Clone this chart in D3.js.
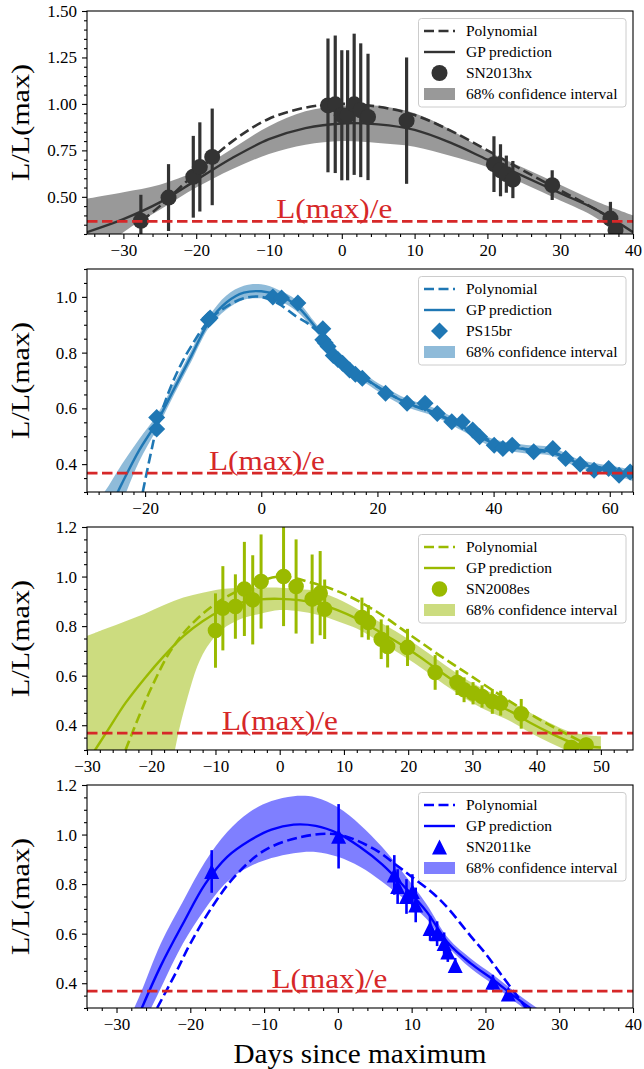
<!DOCTYPE html>
<html>
<head>
<meta charset="utf-8">
<script src="https://cdn.jsdelivr.net/npm/d3@7"></script>
<style>
  html, body { margin: 0; padding: 0; background: #fff; }
  svg { display: block; }
  svg text { font-family: "Liberation Serif", "DejaVu Serif", serif !important; }
</style>
</head>
<body>
<svg id="fig" width="644" height="1069" font-family="Liberation Serif, DejaVu Serif, serif"></svg>
<script>
// ---------------- SN2013hx ----------------
const hxDays = [-27.6, -23.8, -20.4, -19.5, -17.8, -1.9, -0.9, 0.0, 0.8, 1.7, 2.6, 3.6, 8.9, 20.9, 21.8, 22.6, 23.5, 28.9, 36.9, 37.6];
const hxLum  = [0.371, 0.496, 0.608, 0.661, 0.715, 0.992, 0.998, 0.939, 0.939, 0.998, 0.966, 0.930, 0.910, 0.676, 0.643, 0.622, 0.593, 0.563, 0.383, 0.321];
const hxErr  = [0.14, 0.18, 0.22, 0.24, 0.26, 0.36, 0.37, 0.35, 0.35, 0.38, 0.36, 0.34, 0.34, 0.15, 0.14, 0.10, 0.10, 0.08, 0.09, 0.06];
const hxPolyDays = [-27.5, -25, -20, -15, -10, -5, 0, 5, 10, 15, 20, 25, 30, 35, 38];
const hxPolyLum  = [0.37, 0.45, 0.63, 0.80, 0.92, 0.98, 1.0, 0.985, 0.94, 0.855, 0.75, 0.64, 0.535, 0.43, 0.36];
const hxGpDays = [-35, -30, -25, -20, -15, -10, -5, 0, 5, 10, 15, 20, 25, 30, 35, 40];
const hxGpMean = [0.31, 0.38, 0.47, 0.59, 0.71, 0.81, 0.87, 0.895, 0.89, 0.86, 0.79, 0.70, 0.61, 0.52, 0.43, 0.31];
const hxGpLow  = [0.14, 0.31, 0.43, 0.55, 0.65, 0.73, 0.78, 0.80, 0.79, 0.77, 0.72, 0.66, 0.57, 0.48, 0.385, 0.22];
const hxGpHigh = [0.49, 0.525, 0.565, 0.64, 0.76, 0.88, 0.96, 0.99, 0.99, 0.95, 0.86, 0.745, 0.655, 0.565, 0.475, 0.40];
const hxXTicks = [-30, -20, -10, 0, 10, 20, 30, 40];
const hxYTicks = [0.50, 0.75, 1.00, 1.25, 1.50];

// ---------------- PS15br ----------------
const psDays = [-18.0, -18.0, -9.1, -8.8, 2.0, 3.5, 6.3, 10.6, 10.6, 11.0, 11.5, 12.4, 13.2, 14.0, 15.2, 16.2, 17.4, 21.4, 25.1, 28.2, 30.3, 32.8, 34.6, 36.4, 37.6, 40.1, 41.6, 43.2, 46.9, 50.2, 52.4, 54.9, 57.3, 59.8, 61.6, 63.5];
const psLum  = [0.567, 0.526, 0.918, 0.924, 1.0, 0.996, 0.978, 0.886, 0.846, 0.835, 0.822, 0.790, 0.775, 0.762, 0.738, 0.722, 0.708, 0.654, 0.618, 0.618, 0.582, 0.552, 0.552, 0.522, 0.498, 0.468, 0.456, 0.468, 0.444, 0.456, 0.420, 0.400, 0.378, 0.384, 0.360, 0.372];
const psPolyDays = [-20.4, -19, -18, -16, -14, -12, -9, -6, -3, 0, 3, 6, 8, 10, 12, 15, 18, 21, 25, 30, 35, 40, 45, 50, 55, 60, 64];
const psPolyLum  = [0.30, 0.44, 0.53, 0.655, 0.75, 0.825, 0.915, 0.965, 0.995, 1.0, 0.975, 0.93, 0.905, 0.87, 0.82, 0.755, 0.705, 0.665, 0.62, 0.58, 0.53, 0.48, 0.455, 0.44, 0.405, 0.38, 0.355];
const psGpDays = [-30, -27, -24, -21, -18, -15, -12, -9, -6, -3, 0, 3, 6, 9, 12, 15, 18, 21, 25, 30, 35, 40, 45, 50, 55, 60, 64];
const psGpMean = [0.08, 0.20, 0.33, 0.45, 0.55, 0.67, 0.79, 0.91, 0.98, 1.015, 1.02, 1.005, 0.97, 0.90, 0.82, 0.75, 0.705, 0.665, 0.62, 0.585, 0.53, 0.475, 0.455, 0.445, 0.40, 0.38, 0.36];
const psGpLow  = [-0.06, 0.10, 0.26, 0.41, 0.525, 0.65, 0.77, 0.89, 0.955, 0.99, 0.995, 0.985, 0.95, 0.885, 0.805, 0.735, 0.69, 0.65, 0.605, 0.57, 0.515, 0.46, 0.44, 0.43, 0.385, 0.365, 0.34];
const psGpHigh = [0.22, 0.30, 0.40, 0.49, 0.575, 0.69, 0.81, 0.93, 1.005, 1.04, 1.045, 1.025, 0.99, 0.915, 0.835, 0.765, 0.72, 0.68, 0.635, 0.60, 0.545, 0.49, 0.47, 0.46, 0.415, 0.395, 0.38];
const psXTicks = [-20, 0, 20, 40, 60];
const psYTicks = [0.4, 0.6, 0.8, 1.0];

// ---------------- SN2008es ----------------
const esDays = [-10.0, -8.85, -6.9, -5.5, -4.2, -2.9, 0.6, 2.55, 5.05, 6.3, 7.0, 12.8, 13.8, 15.8, 16.8, 19.9, 24.2, 27.6, 28.7, 30.1, 31.5, 33.1, 34.4, 37.6, 45.4, 47.7];
const esLum  = [0.782, 0.872, 0.879, 0.950, 0.906, 0.980, 1.0, 0.960, 0.909, 0.933, 0.868, 0.835, 0.815, 0.747, 0.718, 0.714, 0.613, 0.572, 0.543, 0.529, 0.516, 0.496, 0.489, 0.446, 0.310, 0.320];
const esErr  = [0.15, 0.17, 0.13, 0.19, 0.18, 0.19, 0.20, 0.19, 0.18, 0.17, 0.12, 0.08, 0.07, 0.08, 0.085, 0.075, 0.07, 0.05, 0.05, 0.045, 0.045, 0.05, 0.05, 0.06, 0.03, 0.03];
const esPolyDays = [-24, -22, -20, -17, -14, -10, -5, 0, 5, 10, 15, 20, 25, 30, 35, 40, 45, 48];
const esPolyLum  = [0.30, 0.43, 0.55, 0.70, 0.80, 0.89, 0.96, 1.0, 0.975, 0.93, 0.86, 0.77, 0.68, 0.595, 0.51, 0.43, 0.36, 0.32];
const esGpDays = [-30, -27, -24, -21, -18, -15, -12, -9, -6, -3, 0, 3, 6, 9, 12, 15, 18, 21, 24, 27, 30, 33, 36, 39, 42, 45, 48, 50];
const esGpMean = [0.25, 0.37, 0.49, 0.59, 0.68, 0.76, 0.82, 0.865, 0.895, 0.908, 0.91, 0.905, 0.89, 0.865, 0.83, 0.785, 0.74, 0.69, 0.635, 0.58, 0.53, 0.49, 0.455, 0.41, 0.37, 0.335, 0.315, 0.31];
const esGpLow  = [-0.40, -0.30, -0.20, -0.05, 0.12, 0.45, 0.685, 0.785, 0.83, 0.85, 0.865, 0.86, 0.845, 0.82, 0.79, 0.745, 0.70, 0.65, 0.595, 0.54, 0.49, 0.45, 0.415, 0.37, 0.33, 0.295, 0.27, 0.265];
const esGpHigh = [0.76, 0.79, 0.82, 0.85, 0.885, 0.915, 0.935, 0.95, 0.955, 0.955, 0.955, 0.95, 0.94, 0.91, 0.87, 0.825, 0.78, 0.73, 0.675, 0.62, 0.57, 0.53, 0.495, 0.45, 0.41, 0.375, 0.36, 0.355];
const esXTicks = [-30, -20, -10, 0, 10, 20, 30, 40, 50];
const esYTicks = [0.4, 0.6, 0.8, 1.0, 1.2];

// ---------------- SN2011ke ----------------
const keDays = [-17.1, 0.1, 7.65, 8.1, 9.3, 10.1, 10.55, 12.5, 13.45, 14.4, 14.9, 15.9, 21.0, 23.1];
const keLum  = [0.851, 0.993, 0.837, 0.790, 0.750, 0.770, 0.716, 0.621, 0.600, 0.560, 0.526, 0.472, 0.404, 0.357];
const keErr  = [0.086, 0.13, 0.08, 0.07, 0.07, 0.07, 0.07, 0.05, 0.05, 0.045, 0.04, 0.03, 0.03, 0.02];
const kePolyDays = [-24.5, -22, -20, -17, -14, -10, -5, 0, 5, 8, 10, 13, 15, 18, 20, 22, 24, 26];
const kePolyLum  = [0.30, 0.44, 0.56, 0.71, 0.83, 0.935, 0.99, 1.0, 0.94, 0.875, 0.83, 0.76, 0.70, 0.59, 0.52, 0.44, 0.36, 0.28];
const keGpDays = [-30, -27, -24, -21, -18, -15, -12, -9, -6, -3, 0, 3, 6, 9, 12, 15, 18, 21, 24, 27, 30];
const keGpMean = [0.05, 0.27, 0.47, 0.64, 0.80, 0.91, 0.975, 1.02, 1.04, 1.035, 1.005, 0.95, 0.88, 0.79, 0.69, 0.56, 0.48, 0.415, 0.345, 0.28, 0.22];
const keGpLow  = [-0.05, 0.19, 0.38, 0.56, 0.70, 0.81, 0.87, 0.905, 0.925, 0.93, 0.91, 0.87, 0.81, 0.74, 0.66, 0.545, 0.46, 0.395, 0.325, 0.26, 0.20];
const keGpHigh = [0.15, 0.34, 0.56, 0.73, 0.89, 1.01, 1.09, 1.135, 1.155, 1.15, 1.11, 1.04, 0.95, 0.84, 0.72, 0.58, 0.50, 0.435, 0.365, 0.30, 0.24];
const keXTicks = [-30, -20, -10, 0, 10, 20, 30, 40];
const keYTicks = [0.4, 0.6, 0.8, 1.0, 1.2];

// Threshold luminosity L(max)/e
const threshold = 1 / Math.E;

// ---------------- layout ----------------
const FONT = "Liberation Serif, DejaVu Serif, serif";
const plotLeft = 87, plotRight = 633, plotHeight = 223;
const panelTops = [11, 269, 527, 785];
const zip = (t, v) => t.map((d, k) => ({ t: d, v: v[k] }));

const panels = [
  { name: "SN2013hx", color: "#333333", marker: "circle", r: 8, ebw: 3.2,
    days: hxDays, lum: hxLum, err: hxErr,
    polyDays: hxPolyDays, polyLum: hxPolyLum,
    gpDays: hxGpDays, gpMean: hxGpMean, gpLow: hxGpLow, gpHigh: hxGpHigh,
    xDomain: [-35, 40], yDomain: [0.3, 1.5], xTicks: hxXTicks, yTicks: hxYTicks, yFmt: ".2f" },
  { name: "PS15br", color: "#1f77b4", marker: "diamond", r: 8.5, ebw: 0,
    days: psDays, lum: psLum, err: null,
    polyDays: psPolyDays, polyLum: psPolyLum,
    gpDays: psGpDays, gpMean: psGpMean, gpLow: psGpLow, gpHigh: psGpHigh,
    xDomain: [-30, 64], yDomain: [0.3, 1.1], xTicks: psXTicks, yTicks: psYTicks, yFmt: ".1f" },
  { name: "SN2008es", color: "#9aba00", marker: "circle", r: 7.8, ebw: 3,
    days: esDays, lum: esLum, err: esErr,
    polyDays: esPolyDays, polyLum: esPolyLum,
    gpDays: esGpDays, gpMean: esGpMean, gpLow: esGpLow, gpHigh: esGpHigh,
    xDomain: [-30, 55], yDomain: [0.3, 1.2], xTicks: esXTicks, yTicks: esYTicks, yFmt: ".1f" },
  { name: "SN2011ke", color: "#0000ff", marker: "triangle", r: 7.5, ebw: 2.6,
    days: keDays, lum: keLum, err: keErr,
    polyDays: kePolyDays, polyLum: kePolyLum,
    gpDays: keGpDays, gpMean: keGpMean, gpLow: keGpLow, gpHigh: keGpHigh,
    xDomain: [-34, 40], yDomain: [0.3, 1.2], xTicks: keXTicks, yTicks: keYTicks, yFmt: ".1f" }
];

const svg = d3.select("#fig");
svg.append("rect").attr("width", 644).attr("height", 1069).attr("fill", "#fff");
const defs = svg.append("defs");

function markerPath(kind, r) {
  if (kind === "circle") return d3.symbol(d3.symbolCircle, Math.PI * r * r)();
  if (kind === "diamond") return `M0,${-r}L${r},0L0,${r}L${-r},0Z`;
  return `M0,${-r}L${r},${r}L${-r},${r}Z`;
}

const smooth = d3.curveCatmullRom.alpha(0.5);

panels.forEach((p, i) => {
  const top = panelTops[i], bottom = top + plotHeight;
  const x = d3.scaleLinear().domain(p.xDomain).range([plotLeft, plotRight]);
  const y = d3.scaleLinear().domain(p.yDomain).range([bottom, top]);
  const g = svg.append("g");

  defs.append("clipPath").attr("id", "clip" + i)
    .append("rect").attr("x", plotLeft).attr("y", top)
    .attr("width", plotRight - plotLeft).attr("height", plotHeight);
  const plot = g.append("g").attr("clip-path", `url(#clip${i})`);

  // 68% confidence band of the GP
  const band = d3.area().curve(smooth)
    .x(d => x(d.t)).y0(d => y(d.lo)).y1(d => y(d.hi));
  plot.append("path")
    .datum(p.gpDays.map((t, k) => ({ t, lo: p.gpLow[k], hi: p.gpHigh[k] })))
    .attr("d", band).attr("fill", p.color).attr("fill-opacity", 0.5);

  const line = d3.line().curve(smooth).x(d => x(d.t)).y(d => y(d.v));
  // polynomial fit
  plot.append("path").datum(zip(p.polyDays, p.polyLum)).attr("d", line)
    .attr("fill", "none").attr("stroke", p.color).attr("stroke-width", 2.6)
    .attr("stroke-dasharray", "10,4.5");
  // GP mean
  plot.append("path").datum(zip(p.gpDays, p.gpMean)).attr("d", line)
    .attr("fill", "none").attr("stroke", p.color).attr("stroke-width", 2.4);

  // error bars
  if (p.err) {
    plot.append("g").selectAll("line").data(p.days).join("line")
      .attr("x1", (d) => x(d)).attr("x2", (d) => x(d))
      .attr("y1", (d, k) => y(p.lum[k] - p.err[k]))
      .attr("y2", (d, k) => y(p.lum[k] + p.err[k]))
      .attr("stroke", p.color).attr("stroke-width", p.ebw);
  }
  // observations
  const mp = markerPath(p.marker, p.r);
  plot.append("g").selectAll("path").data(p.days).join("path")
    .attr("d", mp)
    .attr("transform", (d, k) => `translate(${x(d)},${y(p.lum[k])})`)
    .attr("fill", p.color);

  // L(max)/e threshold
  plot.append("line")
    .attr("x1", x(p.xDomain[0])).attr("x2", x(p.xDomain[1]))
    .attr("y1", y(threshold)).attr("y2", y(threshold))
    .attr("stroke", "#d62728").attr("stroke-width", 2.8)
    .attr("stroke-dasharray", "10.5,4.5");
  g.append("text")
    .attr("x", x(-9)).attr("y", y(threshold) - 3)
    .attr("font-family", FONT).attr("font-size", 27).attr("fill", "#d62728")
    .attr("textLength", 116).attr("lengthAdjust", "spacingAndGlyphs")
    .text("L(max)/e");

  // axes
  const xMinor = d3.range(Math.ceil(p.xDomain[0] / 2) * 2, p.xDomain[1] + 1e-9, 2)
    .filter(v => !p.xTicks.includes(v));
  const yMinor = d3.range(Math.ceil(p.yDomain[0] / 0.05 - 1e-6), Math.floor(p.yDomain[1] / 0.05 + 1e-6) + 1)
    .map(k => +(k * 0.05).toFixed(2))
    .filter(v => !p.yTicks.some(t => Math.abs(t - v) < 1e-6));

  const styleAxis = a => {
    a.attr("font-family", FONT);
    a.select(".domain").remove();
    a.selectAll("line").attr("stroke", "#000").attr("stroke-width", 1.1);
    a.selectAll("text").attr("font-size", 17).attr("fill", "#000").attr("font-family", FONT);
  };
  g.append("g").attr("transform", `translate(0,${bottom})`)
    .call(d3.axisBottom(x).tickValues(xMinor).tickSize(3).tickFormat(""))
    .call(styleAxis);
  g.append("g").attr("transform", `translate(0,${bottom})`)
    .call(d3.axisBottom(x).tickValues(p.xTicks).tickSize(5).tickPadding(5).tickFormat(d3.format("d")))
    .call(styleAxis);
  g.append("g").attr("transform", `translate(${plotLeft},0)`)
    .call(d3.axisLeft(y).tickValues(yMinor).tickSize(3).tickFormat(""))
    .call(styleAxis);
  g.append("g").attr("transform", `translate(${plotLeft},0)`)
    .call(d3.axisLeft(y).tickValues(p.yTicks).tickSize(5).tickPadding(5).tickFormat(d3.format(p.yFmt)))
    .call(styleAxis);

  g.append("rect").attr("x", plotLeft).attr("y", top)
    .attr("width", plotRight - plotLeft).attr("height", plotHeight)
    .attr("fill", "none").attr("stroke", "#000").attr("stroke-width", 1.1);

  // y label
  g.append("text")
    .attr("transform", `translate(28.5,${top + plotHeight / 2}) rotate(-90)`)
    .attr("text-anchor", "middle").attr("font-family", FONT).attr("font-size", 26).attr("fill", "#000")
    .attr("textLength", 117).attr("lengthAdjust", "spacingAndGlyphs")
    .text("L/L(max)");

  // legend
  const lx = 418.5, ly = top + 7.5;
  const leg = g.append("g");
  leg.append("rect").attr("x", lx).attr("y", ly).attr("width", 207.5).attr("height", 88.5)
    .attr("rx", 3).attr("fill", "#fff").attr("fill-opacity", 0.8)
    .attr("stroke", "#cccccc").attr("stroke-width", 1);
  const rowY = k => ly + 12.5 + 21 * k;
  const hx0 = 424, hx1 = 455;
  leg.append("line").attr("x1", hx0).attr("x2", hx1).attr("y1", rowY(0)).attr("y2", rowY(0))
    .attr("stroke", p.color).attr("stroke-width", 2.6).attr("stroke-dasharray", "10,4.5");
  leg.append("line").attr("x1", hx0).attr("x2", hx1).attr("y1", rowY(1)).attr("y2", rowY(1))
    .attr("stroke", p.color).attr("stroke-width", 2.4);
  leg.append("path").attr("d", mp)
    .attr("transform", `translate(${(hx0 + hx1) / 2},${rowY(2)})`).attr("fill", p.color);
  leg.append("rect").attr("x", hx0).attr("y", rowY(3) - 6).attr("width", hx1 - hx0).attr("height", 12)
    .attr("fill", p.color).attr("fill-opacity", 0.5);
  const labels = ["Polynomial", "GP prediction", p.name, "68% confidence interval"];
  leg.selectAll("text.lab").data(labels).join("text").attr("class", "lab")
    .attr("x", 466).attr("y", (d, k) => rowY(k) + 5)
    .attr("font-family", FONT).attr("font-size", 15.5).attr("fill", "#000")
    .text(d => d);
});

// x label
svg.append("text")
  .attr("x", 360).attr("y", 1063)
  .attr("text-anchor", "middle").attr("font-family", FONT).attr("font-size", 27).attr("fill", "#000")
  .attr("textLength", 253).attr("lengthAdjust", "spacingAndGlyphs")
  .text("Days since maximum");
</script>
</body>
</html>
